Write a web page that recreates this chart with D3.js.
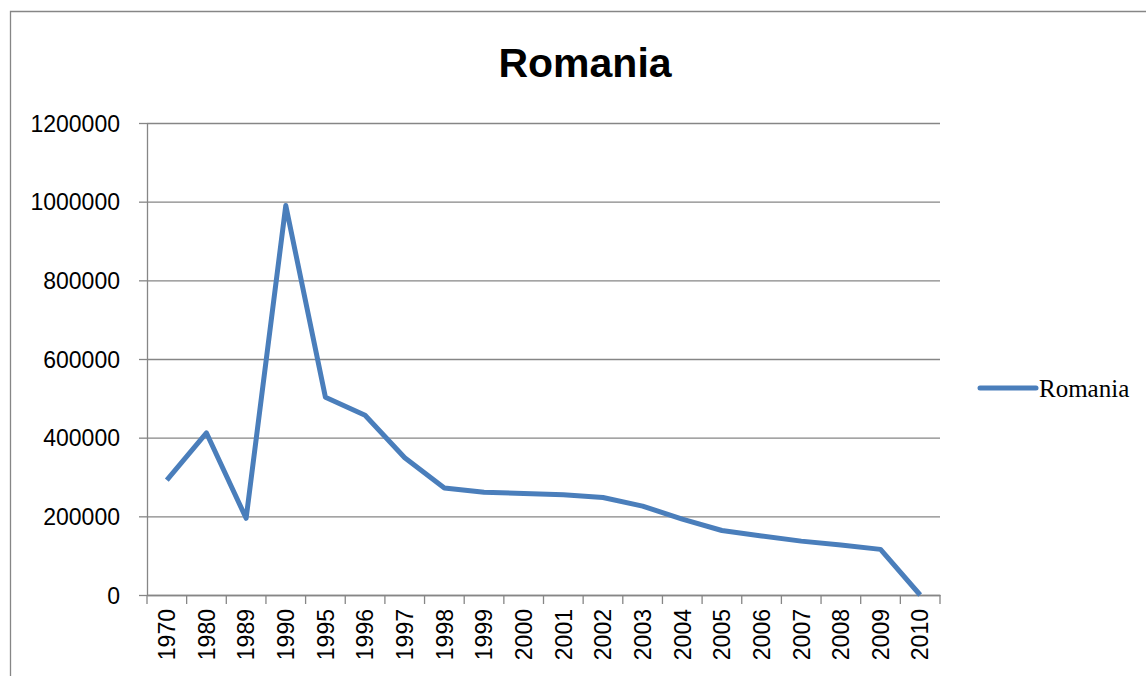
<!DOCTYPE html>
<html>
<head>
<meta charset="utf-8">
<script src="https://cdn.jsdelivr.net/npm/d3@7"></script>
<style>
	body { margin: 0; background: #fff; }
	svg { display: block; }
	.grid line { stroke: #868686; stroke-width: 1.3; }
	.grid path { display: none; }
	.axis path, .axis line { stroke: #868686; stroke-width: 1.3; }
	.axis text { font-family: "Liberation Sans", Arial, sans-serif; font-size: 23px; fill: #000; }
</style>
</head>
<body>
<div id="chartContainer"></div>
<script>
// data
var years = ["1970", "1980", "1989", "1990", "1995", "1996", "1997", "1998", "1999", "2000",
	"2001", "2002", "2003", "2004", "2005", "2006", "2007", "2008", "2009", "2010"];
var romania = [292000, 412000, 195000, 990000, 503000, 457000, 349000, 272000, 261000, 258000,
	255000, 248000, 226000, 193000, 164000, 150000, 137000, 127000, 116000, 0];
var yTicks = [0, 200000, 400000, 600000, 800000, 1000000, 1200000];
var seriesName = "Romania";

var W = 1146, H = 676;
var margin = {top: 123, right: 206, bottom: 81, left: 147};
var graph_w = W - margin.left - margin.right;
var graph_h = H - margin.top - margin.bottom;

var svg = d3.select("#chartContainer").append("svg")
	.attr("width", W)
	.attr("height", H);

// outer frame (only top and left are visible)
svg.append("path")
	.attr("d", "M10.5," + H + "V11.5H" + W)
	.attr("fill", "none")
	.attr("stroke", "#868686")
	.attr("stroke-width", 1.3);

svg.append("text")
	.attr("x", 585)
	.attr("y", 77)
	.attr("text-anchor", "middle")
	.style("font-family", "'Liberation Sans', Arial, sans-serif")
	.style("font-weight", "bold")
	.style("font-size", "41px")
	.text(seriesName);

var g = svg.append("g")
	.attr("transform", "translate(" + margin.left + "," + margin.top + ")");

var x = d3.scaleBand()
	.domain(years)
	.range([0, graph_w])
	.padding(0);

var y = d3.scaleLinear()
	.domain([0, 1200000])
	.range([graph_h, 0]);

// horizontal gridlines
g.append("g")
	.attr("class", "grid")
	.call(d3.axisLeft(y).tickValues(yTicks).tickSize(-graph_w).tickFormat(""));

// y axis
var yAxis = g.append("g")
	.attr("class", "y axis")
	.call(d3.axisLeft(y).tickValues(yTicks).tickSize(8).tickSizeOuter(0).tickPadding(19).tickFormat(d3.format("d")));
yAxis.selectAll("text").attr("dy", "0.36em");

// x axis: ticks sit on the category boundaries
var xAxis = g.append("g")
	.attr("class", "x axis")
	.attr("transform", "translate(0," + graph_h + ")")
	.call(d3.axisBottom(x).tickSize(0).tickSizeOuter(0).tickFormat(""));

var bounds = years.map(function(d) { return x(d); }).concat([graph_w]);
xAxis.selectAll(".edge")
	.data(bounds)
	.enter().append("line")
	.attr("class", "edge")
	.attr("x1", function(d) { return d; })
	.attr("x2", function(d) { return d; })
	.attr("y1", 0)
	.attr("y2", 9);

xAxis.selectAll(".lbl")
	.data(years)
	.enter().append("text")
	.attr("class", "lbl")
	.attr("text-anchor", "end")
	.attr("transform", function(d) {
		return "translate(" + (x(d) + x.bandwidth() / 2) + ",14) rotate(-90)";
	})
	.attr("dy", "0.36em")
	.text(function(d) { return d; });

var line = d3.line()
	.x(function(d, i) { return x(years[i]) + x.bandwidth() / 2; })
	.y(function(d) { return y(d); });

g.append("path")
	.datum(romania)
	.attr("fill", "none")
	.attr("stroke", "#4a7ebb")
	.attr("stroke-width", 5)
	.attr("stroke-linejoin", "round")
	.attr("d", line);

// legend
var leg = svg.append("g").attr("transform", "translate(980,388)");
leg.append("line")
	.attr("x1", 0).attr("x2", 56)
	.attr("stroke", "#4a7ebb")
	.attr("stroke-width", 5)
	.attr("stroke-linecap", "round");
leg.append("text")
	.attr("x", 59)
	.attr("dy", "0.35em")
	.style("font-family", "'Liberation Serif', 'Times New Roman', serif")
	.style("font-size", "25px")
	.text(seriesName);
</script>
</body>
</html>
